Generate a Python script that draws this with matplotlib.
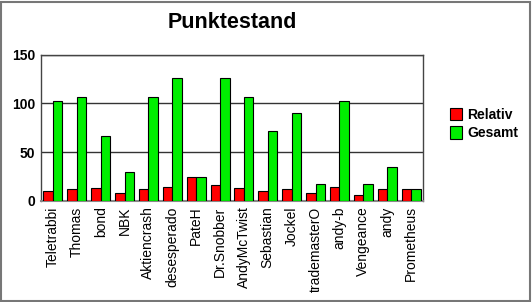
import matplotlib
matplotlib.use("Agg")
import matplotlib.pyplot as plt
import numpy as np
from matplotlib.patches import Rectangle

categories = ["Teletrabbi", "Thomas", "bond", "NBK", "Aktiencrash", "desesperado",
              "PateH", "Dr.Snobber", "AndyMcTwist", "Sebastian", "Jockel",
              "trademasterO", "andy-b", "Vengeance", "andy", "Prometheus"]
relativ = [10, 12, 13, 8, 12, 14, 24, 16, 13, 10, 12, 8, 14, 6, 12, 12]
gesamt = [102, 107, 66, 30, 107, 126, 24, 126, 107, 72, 90, 17, 102, 17, 35, 12]
yticks = [0, 50, 100, 150]

plt.rcParams['font.family'] = ['Liberation Sans', 'DejaVu Sans']

fig = plt.figure(figsize=(5.32, 3.02), dpi=100)
ax = fig.add_axes([41/532, 1-200.7/302, (423-41)/532, (200.7-54.7)/302])

x = np.arange(len(categories))
w = 0.4
ax.bar(x - w/2, relativ, w, color="#ff0000", edgecolor="black", linewidth=0.8,
       label="Relativ", zorder=3)
ax.bar(x + w/2, gesamt, w, color="#00ee00", edgecolor="black", linewidth=0.8,
       label="Gesamt", zorder=3)

ax.set_xlim(-0.5, len(categories) - 0.5)
ax.set_ylim(0, 150)
ax.set_yticks(yticks)
ax.set_yticklabels([str(v) for v in yticks], fontsize=10, fontweight='bold')
ax.set_xticks(x)
ax.set_xticklabels(categories, rotation=90, fontsize=10)
ax.tick_params(axis='both', length=0, pad=4)
ax.yaxis.grid(True, color="#333333", linewidth=1, zorder=0)
for s in ['left', 'right', 'top']:
    ax.spines[s].set_color("#444444")
    ax.spines[s].set_linewidth(1)
ax.spines['bottom'].set_color("#888888")
ax.spines['bottom'].set_linewidth(1.5)

fig.text(232/532, 1-22/302, "Punktestand", ha='center', va='center',
         fontsize=15.5, fontweight='bold')

leg = fig.legend(loc='center left', bbox_to_anchor=(437/532, 1-124/302),
                 frameon=False, prop={'weight': 'bold', 'size': 10},
                 handlelength=0.9, handleheight=1.0, handletextpad=0.4,
                 labelspacing=0.3)

fig.patches.append(Rectangle((1/532, 1/302), 529/532, 299/302, transform=fig.transFigure,
                             fill=False, edgecolor="#777777", linewidth=1.5))

fig.savefig("out.png", dpi=100)
